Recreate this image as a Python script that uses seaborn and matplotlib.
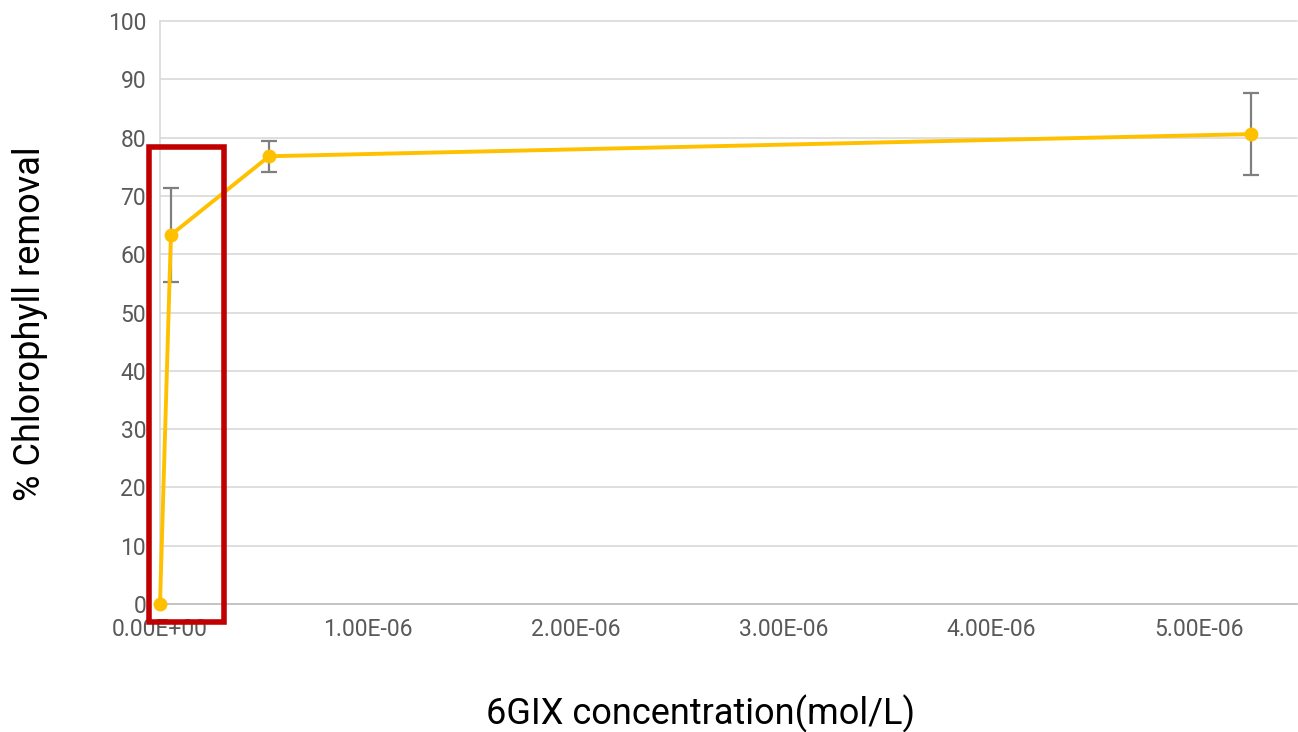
import matplotlib
matplotlib.use("Agg")
import matplotlib.pyplot as plt
import seaborn as sns
import pandas as pd
from matplotlib.patches import Rectangle

concentration = [0.0, 5.25e-8, 5.25e-7, 5.25e-6]
removal = [0.0, 63.3, 76.8, 80.6]
err = [0.0, 8.0, 2.7, 7.0]
x_ticks = [0, 1e-6, 2e-6, 3e-6, 4e-6, 5e-6]
x_ticklabels = ["0.00E+00", "1.00E-06", "2.00E-06", "3.00E-06", "4.00E-06", "5.00E-06"]
y_ticks = [0, 10, 20, 30, 40, 50, 60, 70, 80, 90, 100]

sns.set_style("white")
plt.rcParams["font.family"] = ["Roboto", "DejaVu Sans"]

df = pd.DataFrame({"conc": concentration, "removal": removal})

W, H = 1298, 732
fig = plt.figure(figsize=(W/100, H/100), dpi=100)
ax = fig.add_axes([160/W, 1-604/H, 1137/W, (604-21)/H])

for y in y_ticks:
    ax.axhline(y, color="#d9d9d9", lw=1.2, zorder=0)

ax.errorbar(concentration[1:], removal[1:], yerr=err[1:], fmt="none",
            ecolor="#7f7f7f", elinewidth=1.6, capsize=6, capthick=1.6, zorder=2)
sns.lineplot(data=df, x="conc", y="removal", ax=ax, color="#FFC000", lw=2.8,
             marker="o", markersize=10, markeredgewidth=0, zorder=3)
for artist in ax.lines:
    artist.set_clip_on(False)

ax.set_xlim(0, 5.47e-6)
ax.set_ylim(0, 100)
ax.set_xticks(x_ticks)
ax.set_xticklabels(x_ticklabels)
ax.set_yticks(y_ticks)
ax.tick_params(axis="both", labelsize=16.5, colors="#595959", length=0, pad=10)
for s in ["top", "right"]:
    ax.spines[s].set_visible(False)
ax.spines["left"].set_color("#d9d9d9")
ax.spines["bottom"].set_color("#bfbfbf")
ax.spines["left"].set_linewidth(1.2)
ax.spines["bottom"].set_linewidth(1.2)

ax.set_xlabel("")
ax.set_ylabel("")
fig.text(701/W, 1-714/H, "6GIX concentration(mol/L)", fontsize=26, color="black",
         ha="center", va="center")
fig.text(30/W, 1-324/H, "% Chlorophyll removal", fontsize=26, color="black",
         ha="center", va="center", rotation=90)

ax.add_patch(Rectangle((-5.3e-8, -3.1), 3.6e-7, 81.5, fill=False, edgecolor="#C00000",
                       lw=4, clip_on=False, zorder=4))

fig.savefig("out.png", dpi=100)
